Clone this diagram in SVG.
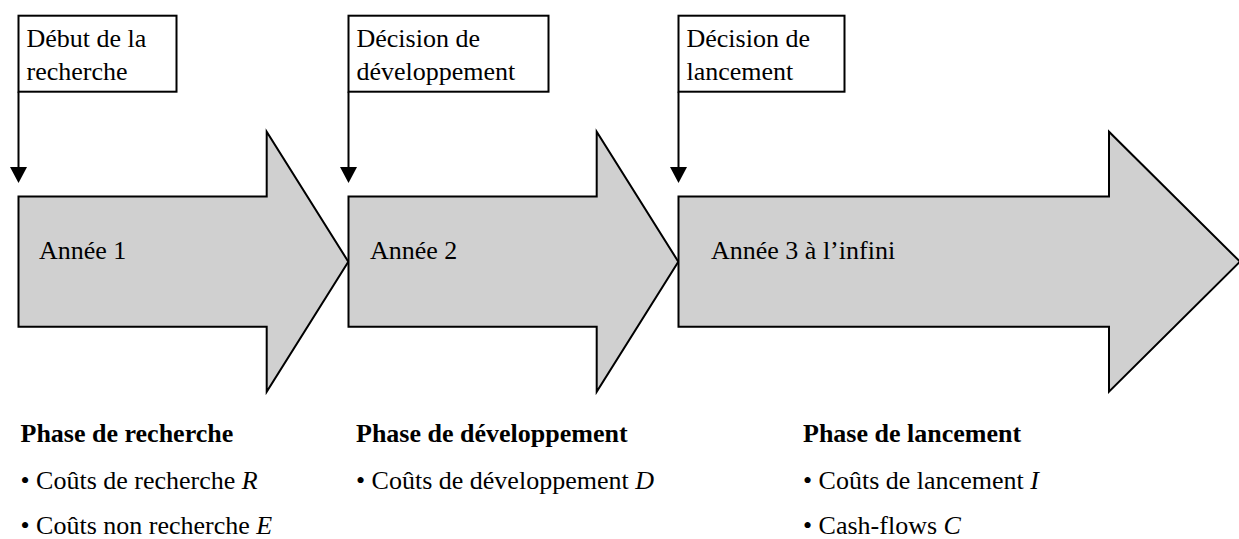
<svg xmlns="http://www.w3.org/2000/svg" width="1239" height="539" viewBox="0 0 1239 539">
<style>
text{font-family:"Liberation Serif","Times New Roman",serif;font-size:26px;fill:#000}
.box{fill:#fff;stroke:#000;stroke-width:2}
.arrow{fill:#d0d0d0;stroke:#000;stroke-width:2;stroke-linejoin:miter}
.conn{stroke:#000;stroke-width:2;fill:none}
.b{font-weight:bold}
.i{font-style:italic}
</style>
<defs>
<marker id="ah" markerUnits="userSpaceOnUse" viewBox="0 0 17 16" refX="8.5" refY="16" markerWidth="17" markerHeight="16" orient="auto-start-reverse">
<path d="M0,0 L17,0 L8.5,16 Z" fill="#000"/>
</marker>
</defs>
<g id="phase1">
<polygon class="arrow" points="18.5,196.5 266.7,196.5 266.7,131.7 348.3,261.7 266.7,391.7 266.7,326.7 18.5,326.7"/>
<text x="39" y="259">Année 1</text>
</g>
<g id="phase2">
<polygon class="arrow" points="348.5,196.5 596.7,196.5 596.7,131.7 678.3,261.7 596.7,391.7 596.7,326.7 348.5,326.7"/>
<text x="370" y="259">Année 2</text>
</g>
<g id="phase3">
<polygon class="arrow" points="678.5,196.5 1109,196.5 1109,131.7 1240,261.7 1109,391.7 1109,326.7 678.5,326.7"/>
<text x="711" y="259">Année 3 à l’infini</text>
</g>
<g id="box1">
<rect class="box" x="18.5" y="15.7" width="158" height="76"/>
<text x="26.5" y="47">Début de la</text>
<text x="26.5" y="80">recherche</text>
</g>
<g id="box2">
<rect class="box" x="348.5" y="15.7" width="200" height="76"/>
<text x="356.5" y="47">Décision de</text>
<text x="356.5" y="80">développement</text>
</g>
<g id="box3">
<rect class="box" x="678.5" y="15.7" width="166" height="76"/>
<text x="686.5" y="47">Décision de</text>
<text x="686.5" y="80">lancement</text>
</g>
<g id="connectors">
<line class="conn" x1="18.5" y1="91.7" x2="18.5" y2="168"/>
<path d="M10,167 L27,167 L18.5,183 Z" fill="#000"/>
<line class="conn" x1="348.5" y1="91.7" x2="348.5" y2="168"/>
<path d="M340,167 L357,167 L348.5,183 Z" fill="#000"/>
<line class="conn" x1="678.5" y1="91.7" x2="678.5" y2="168"/>
<path d="M670,167 L687,167 L678.5,183 Z" fill="#000"/>
</g>
<g id="research">
<text class="b" x="20.5" y="442">Phase de recherche</text>
<text x="20.5" y="489">• Coûts de recherche <tspan class="i">R</tspan></text>
<text x="20.5" y="534">• Coûts non recherche <tspan class="i">E</tspan></text>
</g>
<g id="development">
<text class="b" x="356" y="442">Phase de développement</text>
<text x="356" y="489">• Coûts de développement <tspan class="i">D</tspan></text>
</g>
<g id="launch">
<text class="b" x="803" y="442">Phase de lancement</text>
<text x="803" y="489">• Coûts de lancement <tspan class="i">I</tspan></text>
<text x="803" y="534">• Cash-flows <tspan class="i">C</tspan></text>
</g>
</svg>
